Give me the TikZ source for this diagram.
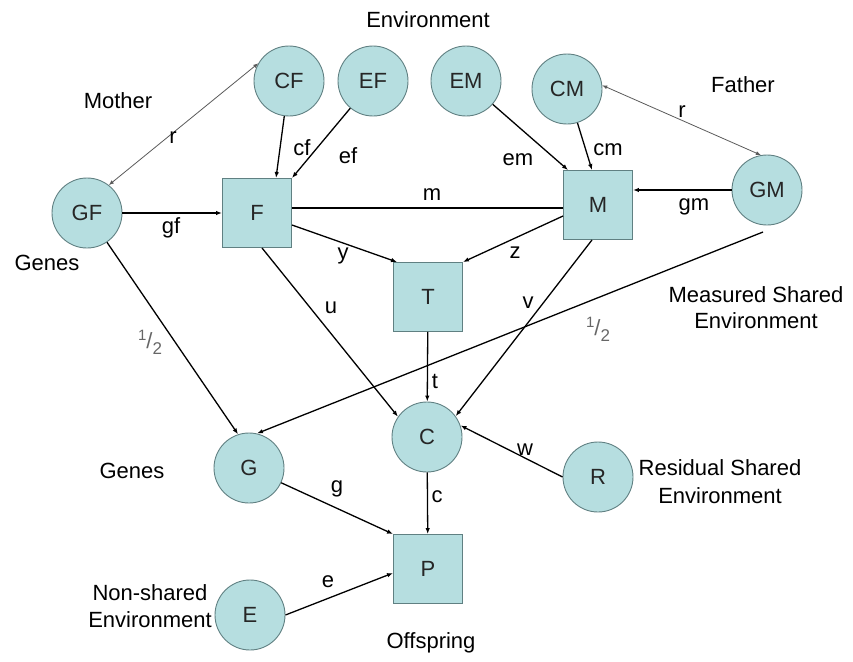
\documentclass[tikz,border=0pt]{standalone}
\usepackage{fontspec}
\setmainfont{Liberation Sans}
\usetikzlibrary{arrows.meta,calc}
\definecolor{nodefill}{RGB}{182,222,224}
\definecolor{nodeedge}{RGB}{96,128,130}
\definecolor{relline}{RGB}{90,90,90}
\tikzset{
  every node/.style={font=\fontsize{22}{27}\selectfont, inner sep=0pt},
  latent/.style={circle, draw=nodeedge, fill=nodefill, line width=0.9pt, minimum size=70pt, text=black!85},
  observed/.style={rectangle, draw=nodeedge, fill=nodefill, line width=0.9pt, minimum size=69pt, text=black!85},
  path/.style={line width=1.3pt, -{Latex[length=6pt,width=4.5pt]}},
  corr/.style={line width=0.8pt, draw=relline, {Latex[length=5pt,width=4pt]}-{Latex[length=5pt,width=4pt]}},
  lbl/.style={anchor=base},
  half/.style={anchor=base, text=black!60}
}
\newcommand{\halfsym}{\raisebox{0.35em}{\fontsize{15}{15}\selectfont 1}/\raisebox{-0.3em}{\fontsize{17}{17}\selectfont 2}}
\begin{document}
\begin{tikzpicture}[x=1pt,y=-1pt]
\useasboundingbox (0,0) rectangle (853,661);

% latent and observed variables
\node[latent]   (GF) at (87,213)  {GF};
\node[observed] (F)  at (257,213) {F};
\node[latent]   (CF) at (289,81)  {CF};
\node[latent]   (EF) at (373,81)  {EF};
\node[latent]   (EM) at (466,81)  {EM};
\node[latent]   (CM) at (567,89)  {CM};
\node[observed] (M)  at (598,205) {M};
\node[latent]   (GM) at (767,190) {GM};
\node[observed] (T)  at (428,297) {T};
\node[latent]   (C)  at (427,437) {C};
\node[latent]   (R)  at (598,477) {R};
\node[latent]   (G)  at (249,468) {G};
\node[observed] (P)  at (428,569) {P};
\node[latent]   (E)  at (250,615) {E};
\coordinate (ms) at (763,232);

% group captions
\node[lbl] (tEnv)  at (428,28)  {Environment};
\node[lbl] (tMoth) at (118,108) {Mother};
\node[lbl] (tFath) at (743,92)  {Father};
\node[lbl] (tGen1) at (47,270)  {Genes};
\node[lbl] (tGen2) at (132,478) {Genes};
\node[lbl] (tMse1) at (756,302) {Measured Shared};
\node[lbl] (tMse2) at (756,328) {Environment};
\node[lbl] (tRse1) at (720,475) {Residual Shared};
\node[lbl] (tRse2) at (720,503) {Environment};
\node[lbl] (tNse1) at (150,600) {Non-shared};
\node[lbl] (tNse2) at (150,627) {Environment};
\node[lbl] (tOff)  at (431,648) {Offspring};

% parental paths
\draw[corr] (GF.52) -- (CF.150);
\draw[corr] (CM.6) -- (GM.100);
\draw[path] (GF) -- (F);
\draw[path] (CF) -- ([xshift=19pt]F.north);
\draw[path] (EF) -- (F.north east);
\draw[path] (EM) -- ([xshift=5pt]M.north west);
\draw[path] (CM) -- ([xshift=-6pt]M.north);
\draw[path] (GM.west) -- (GM.west -| M.east);
\draw[line width=1.8pt] ([yshift=-3pt]M.west) -- ([yshift=-3pt]M.west -| F.east);

% transmission to offspring
\draw[path] ([yshift=-12pt]F.east) -- ([xshift=4pt]T.north west);
\draw[path] ([yshift=-11pt]M.west) -- (T.north east);
\draw[path] ([xshift=5pt]F.south) -- (C.145);
\draw[path] ([xshift=-6pt]M.south) -- (C.36);
\draw[path] (T) -- (C);
\draw[path] (R.west) -- (C.19);
\draw[path] (GF) -- (G.108);
\draw[path] (ms) -- (G.77);
\draw[path] (C) -- (P);
\draw[path] (G) -- (P.north west);
\draw[path] (E.east) -- ([yshift=-4pt]P.west);

% path coefficients
\node[lbl] (lr1) at (173,143) {r};
\node[lbl] (lcf) at (302,155) {cf};
\node[lbl] (lef) at (348,163) {ef};
\node[lbl] (lgf) at (171,233) {gf};
\node[lbl] (ly)  at (343,259) {y};
\node[lbl] (lm)  at (432,200) {m};
\node[lbl] (lem) at (518,165) {em};
\node[lbl] (lcm) at (608,155) {cm};
\node[lbl] (lr2) at (682,117) {r};
\node[lbl] (lgm) at (694,210) {gm};
\node[lbl] (lz)  at (515,258) {z};
\node[lbl] (lu)  at (331,313) {u};
\node[half] (lh1) at (150,348) {\halfsym};
\node[lbl] (lv)  at (528,308) {v};
\node[half] (lh2) at (598,335) {\halfsym};
\node[lbl] (lt)  at (435,388) {t};
\node[lbl] (lw)  at (525,455) {w};
\node[lbl] (lc)  at (437,502) {c};
\node[lbl] (lg)  at (337,492) {g};
\node[lbl] (le)  at (328,587) {e};
\end{tikzpicture}
\end{document}
